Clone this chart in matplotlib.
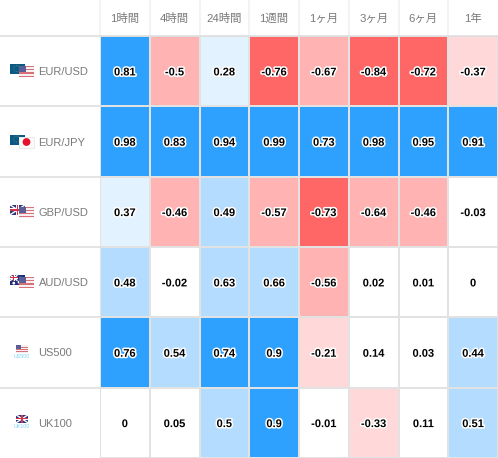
import numpy as np
import matplotlib.pyplot as plt
import matplotlib.patheffects as pe
from matplotlib.colors import ListedColormap, BoundaryNorm
from matplotlib.patches import Rectangle, Circle

plt.rcParams['font.family'] = ['Liberation Sans', 'Noto Sans CJK JP', 'DejaVu Sans']

# Data
periods = ['1時間', '4時間', '24時間', '1週間', '1ヶ月', '3ヶ月', '6ヶ月', '1年']
symbols = ['EUR/USD', 'EUR/JPY', 'GBP/USD', 'AUD/USD', 'US500', 'UK100']
eur_usd = [0.81, -0.5, 0.28, -0.76, -0.67, -0.84, -0.72, -0.37]
eur_jpy = [0.98, 0.83, 0.94, 0.99, 0.73, 0.98, 0.95, 0.91]
gbp_usd = [0.37, -0.46, 0.49, -0.57, -0.73, -0.64, -0.46, -0.03]
aud_usd = [0.48, -0.02, 0.63, 0.66, -0.56, 0.02, 0.01, 0]
us500 = [0.76, 0.54, 0.74, 0.9, -0.21, 0.14, 0.03, 0.44]
uk100 = [0, 0.05, 0.5, 0.9, -0.01, -0.33, 0.11, 0.51]
flags = [('eu', 'us'), ('eu', 'jp'), ('gb', 'us'), ('au', 'us'), ('us',), ('gb',)]
index_names = [None, None, None, None, 'US500', 'UK100']

values = np.array([eur_usd, eur_jpy, gbp_usd, aud_usd, us500, uk100])

# Color bands
bounds = [-1, -0.7, -0.4, -0.2, 0.2, 0.4, 0.7, 1]
colors = ['#ff6666', '#ffb3b3', '#ffd9d9', '#ffffff', '#e3f2ff', '#b3dcff', '#2ea1ff']
cmap = ListedColormap(colors)
norm = BoundaryNorm(bounds, cmap.N)

W, H = 498, 458
fig = plt.figure(figsize=(W / 100, H / 100), dpi=100, facecolor='white')

# Overlay in pixel coordinates for rules and flags
bg = fig.add_axes([0, 0, 1, 1], zorder=3)
bg.set_xlim(0, W)
bg.set_ylim(H, 0)
bg.axis('off')
bg.patch.set_alpha(0)

# Heatmap
left, top, right, bottom = 100, 36, 498, 458
ax = fig.add_axes([left / W, 1 - bottom / H, (right - left) / W, (bottom - top) / H], zorder=2)
ax.pcolormesh(values, cmap=cmap, norm=norm, edgecolors='#e2e2e2', linewidth=1.3)
ax.set_xlim(0, len(periods))
ax.set_ylim(len(symbols), 0)
ax.xaxis.tick_top()
ax.set_xticks(np.arange(len(periods)) + 0.5, periods)
ax.set_yticks(np.arange(len(symbols)) + 0.5, symbols)
ax.tick_params(axis='both', length=0, labelcolor='#7a7a7a', labelsize=8.0)
ax.tick_params(axis='x', pad=8.5, labelsize=8.2)
ax.tick_params(axis='y', pad=0)
for label in ax.get_yticklabels():
    label.set_horizontalalignment('left')
    label.set_x(-61.5 / (right - left))
    label.set_y(label.get_position()[1])
    label.set_verticalalignment('center_baseline')
for s in ax.spines.values():
    s.set_visible(False)

halo = [pe.withStroke(linewidth=2.2, foreground='white')]
for r in range(values.shape[0]):
    for c in range(values.shape[1]):
        ax.annotate(f'{values[r, c]:g}', (c + 0.5, r + 0.5), xytext=(0, -0.9),
                    textcoords='offset points', ha='center', va='center',
                    fontsize=8.0, fontweight='bold', color='black', path_effects=halo)

# Header and row rules
row_h = (bottom - top) / len(symbols)
col_w = (right - left) / len(periods)
for r in range(len(symbols)):
    bg.plot([0, left], [top + r * row_h] * 2, color='#dcdcdc', lw=1.1)
for c in range(len(periods)):
    bg.plot([left + c * col_w] * 2, [0, top], color='#f0f0f0', lw=1.1)
bg.plot([left, right], [top, top], color='#dcdcdc', lw=1.1)


def rect(x, y, w, h, color, z=4):
    bg.add_patch(Rectangle((x, y), w, h, facecolor=color, edgecolor='none', zorder=z))


def draw_flag(kind, x, y, w, h, z=4):
    if kind == 'eu':
        rect(x, y, w, h, '#0b5a85', z)
        bg.add_patch(Circle((x + w * 0.45, y + h * 0.45), h * 0.3, facecolor='none',
                            edgecolor='#7d9a4a', lw=0.5, ls=':', zorder=z + 0.1))
    elif kind == 'us':
        rect(x, y, w, h, '#f6f0f0', z)
        for i in range(0, 7, 2):
            rect(x, y + i * h / 7, w, h / 7 * 0.75, '#d8707a', z + 0.1)
        rect(x, y, w * 0.45, h * 0.55, '#5a5f96', z + 0.2)
    elif kind == 'jp':
        rect(x, y, w, h, '#fafafa', z)
        bg.add_patch(Rectangle((x, y), w, h, facecolor='none', edgecolor='#e4e4e4',
                               lw=0.5, zorder=z + 0.1))
        bg.add_patch(Circle((x + w / 2, y + h / 2), h * 0.29, color='#e8112d', zorder=z + 0.2))
    elif kind in ('gb', 'au'):
        gw = w if kind == 'gb' else w * 0.5
        gh = h if kind == 'gb' else h * 0.55
        if kind == 'au':
            rect(x, y, w, h, '#1f2f7a', z)
            for dx, dy in [(0.7, 0.3), (0.85, 0.55), (0.6, 0.7), (0.25, 0.8)]:
                bg.add_patch(Circle((x + w * dx, y + h * dy), 0.7, color='white', zorder=z + 0.1))
        rect(x, y, gw, gh, '#2a3a80', z + 0.1)
        bg.plot([x, x + gw], [y, y + gh], color='white', lw=1.0, zorder=z + 0.2, solid_capstyle='butt')
        bg.plot([x, x + gw], [y + gh, y], color='white', lw=1.0, zorder=z + 0.2, solid_capstyle='butt')
        rect(x + gw * 0.38, y, gw * 0.24, gh, 'white', z + 0.3)
        rect(x, y + gh * 0.36, gw, gh * 0.28, 'white', z + 0.3)
        rect(x + gw * 0.44, y, gw * 0.12, gh, '#d5324a', z + 0.4)
        rect(x, y + gh * 0.42, gw, gh * 0.16, '#d5324a', z + 0.4)


for r, fl in enumerate(flags):
    cy = top + (r + 0.5) * row_h - 0.5
    if len(fl) == 2:
        draw_flag(fl[0], 10, cy - 6.5, 15, 10, 4)
        draw_flag(fl[1], 19, cy - 4.5, 15, 11, 5)
    else:
        draw_flag(fl[0], 16, cy - 7.5, 12, 8, 4)
        bg.text(22, cy + 4.5, index_names[r], ha='center', va='center', fontsize=3.8, color='#7fd4f5')

fig.savefig('out.png', dpi=100)
